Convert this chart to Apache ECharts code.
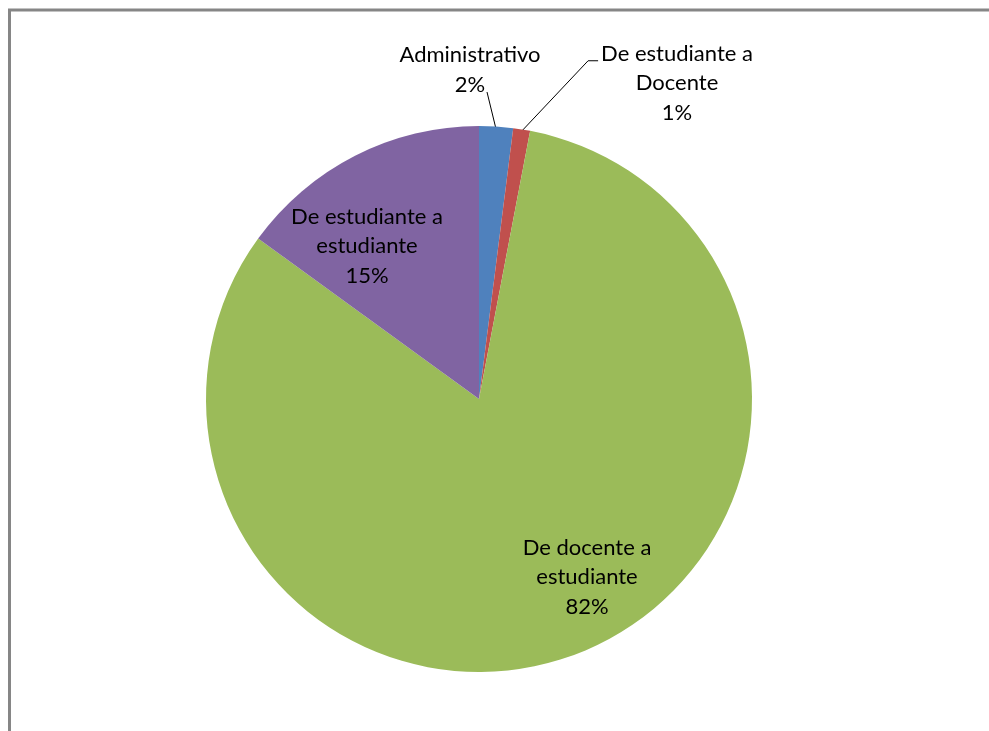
<!DOCTYPE html>
<html>
<head>
<meta charset="utf-8">
<script src="https://cdn.jsdelivr.net/npm/echarts@6/dist/echarts.min.js"></script>
<style>
html,body{margin:0;padding:0;background:#fff;}
#chart{width:989px;height:731px;}
</style>
</head>
<body>
<div id="chart"></div>
<script>
var categories = ['Administrativo', 'De estudiante a\nDocente', 'De docente a\nestudiante', 'De estudiante a\nestudiante'];
var values = [2, 1, 82, 15];
var percentLabels = ['2%', '1%', '82%', '15%'];
var colors = ['#4F81BD', '#C0504D', '#9BBB59', '#8064A2'];

// label block centres (layout, not data)
var labelPos = [[470, 70], [677, 83], [587, 577], [367, 246]];

var chart = echarts.init(document.getElementById('chart'));
var data = categories.map(function (c, i) {
  var outside = i < 2;
  return {
    name: c,
    value: values[i],
    itemStyle: { color: colors[i] },
    label: { position: outside ? 'outside' : 'inside' },
    labelLine: { show: outside }
  };
});

chart.setOption({
  animation: false,
  graphic: [{
    type: 'polyline',
    shape: { points: [[9.5, 740], [9.5, 10], [1000, 10]] },
    style: { stroke: '#868686', lineWidth: 3, fill: null },
    silent: true
  }],
  series: [{
    type: 'pie',
    center: [479, 399],
    radius: 273,
    startAngle: 90,
    clockwise: true,
    avoidLabelOverlap: false,
    itemStyle: { borderWidth: 0 },
    label: {
      show: true,
      color: '#000',
      fontFamily: 'Lato',
      fontSize: 22,
      lineHeight: 29.5,
      align: 'center',
      formatter: function (p) { return p.name + '\n' + percentLabels[p.dataIndex]; }
    },
    labelLine: { lineStyle: { color: '#000', width: 1 }, length: 20, length2: 10 },
    labelLayout: function (p) {
      var pos = labelPos[p.dataIndex];
      var res = { x: pos[0], y: pos[1], align: 'center', verticalAlign: 'middle' };
      if (p.labelLinePoints && p.dataIndex < 2) {
        var s = p.labelLinePoints[0];
        var r = p.labelRect;
        var hw = r.width / 2, hh = r.height / 2;
        if (p.dataIndex === 0) {
          res.labelLinePoints = [[s[0], s[1] + 3], [pos[0] + 17, pos[1] + 22], [pos[0] + 17, pos[1] + 22]];
        } else {
          var lx = pos[0] - hw - 3;
          var ly = pos[1] - hh + 22;
          res.labelLinePoints = [[s[0] - 4, s[1] + 6], [lx - 10, ly], [lx, ly]];
        }
      }
      return res;
    },
    data: data
  }]
});
</script>
</body>
</html>
